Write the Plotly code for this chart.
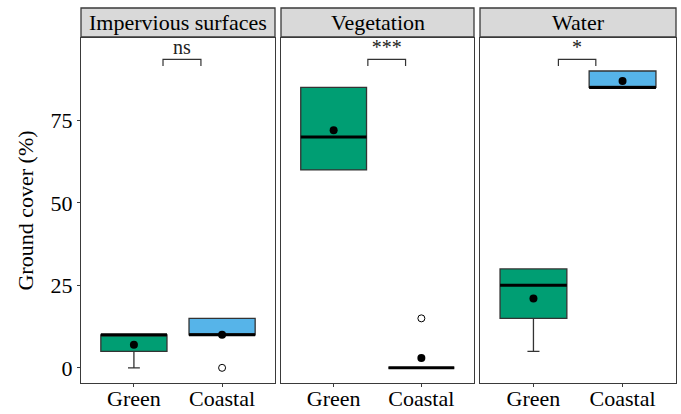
import plotly.graph_objects as go

panels = ["Impervious surfaces", "Vegetation", "Water"]
groups = ["Green", "Coastal"]
colors = {"Green": "#009E73", "Coastal": "#56B4E9"}

# box statistics per panel: [Green, Coastal]
q1 = [[5, 10], [60, 0], [15, 85]]
median = [[10, 10], [70, 0], [25, 85]]
q3 = [[10, 15], [85, 0], [30, 90]]
lowerfence = [[0, 10], [60, 0], [5, 85]]
upperfence = [[10, 15], [85, 0], [30, 90]]
means = [[7, 10], [72, 3], [21, 87]]
outliers = [[[], [0]], [[], [15]], [[], []]]

sig_labels = ["ns", "***", "*"]
sig_x = [[1.33, 1.76], [1.39, 1.82], [1.28, 1.70]]
sig_y = 93.5
sig_tip = 91.5

y_ticks = [0, 25, 50, 75]
y_range = [-4.6, 100]

W, H = 681, 414
x_domains = [[81 / W, 275 / W], [281 / W, 474 / W], [480 / W, 676 / W]]
y_domain = [1 - 383 / H, 1 - 38 / H]
strip = [1 - 37 / H, 1 - 8 / H]

font_family = "Liberation Serif, Times New Roman, serif"
edge = "#3a3a3a"
box_w = 0.75
fs = 22

fig = go.Figure()
for p in range(3):
    xa = "x" if p == 0 else f"x{p+1}"
    ya = "y" if p == 0 else f"y{p+1}"
    for g, grp in enumerate(groups):
        xpos = g + 1
        fig.add_trace(go.Box(
            x=[xpos], q1=[q1[p][g]], median=[median[p][g]], q3=[q3[p][g]],
            lowerfence=[lowerfence[p][g]], upperfence=[upperfence[p][g]],
            width=box_w, whiskerwidth=0.18, fillcolor=colors[grp],
            line=dict(color="#333333", width=1.3), boxpoints=False,
            xaxis=xa, yaxis=ya, showlegend=False, hoverinfo="skip"))
        # thick median line
        fig.add_trace(go.Scatter(
            x=[xpos - box_w / 2, xpos + box_w / 2], y=[median[p][g]] * 2,
            mode="lines", line=dict(color="black", width=3),
            xaxis=xa, yaxis=ya, showlegend=False, hoverinfo="skip"))
        if outliers[p][g]:
            fig.add_trace(go.Scatter(
                x=[xpos] * len(outliers[p][g]), y=outliers[p][g], mode="markers",
                marker=dict(symbol="circle-open", size=7, color="black", line=dict(width=1)),
                xaxis=xa, yaxis=ya, showlegend=False, hoverinfo="skip"))
        fig.add_trace(go.Scatter(
            x=[xpos], y=[means[p][g]], mode="markers",
            marker=dict(symbol="circle", size=8, color="black"),
            xaxis=xa, yaxis=ya, showlegend=False, hoverinfo="skip"))
    # significance bracket
    x0, x1 = sig_x[p]
    fig.add_trace(go.Scatter(
        x=[x0, x0, x1, x1], y=[sig_tip, sig_y, sig_y, sig_tip], mode="lines",
        line=dict(color="#333333", width=1.2),
        xaxis=xa, yaxis=ya, showlegend=False, hoverinfo="skip"))
    fig.add_trace(go.Scatter(
        x=[(x0 + x1) / 2], y=[sig_y], mode="text", text=[sig_labels[p]],
        textposition="top center", textfont=dict(family=font_family, size=20, color="#222"),
        xaxis=xa, yaxis=ya, showlegend=False, hoverinfo="skip"))

    axx = dict(domain=x_domains[p], range=[0.4, 2.6], tickvals=[1, 2], ticktext=groups,
               showgrid=False, zeroline=False, showline=True, mirror=True,
               linecolor=edge, linewidth=1.3, ticks="outside", ticklen=3, tickcolor=edge,
               ticklabelstandoff=-8,
               tickfont=dict(family=font_family, size=fs, color="black"), anchor=ya,
               fixedrange=True, automargin=False)
    axy = dict(domain=y_domain, range=y_range, tickvals=y_ticks,
               showgrid=False, zeroline=False, showline=True, mirror=True,
               linecolor=edge, linewidth=1.3, anchor=xa, fixedrange=True,
               showticklabels=(p == 0), ticks="outside" if p == 0 else "",
               ticklen=3, tickcolor=edge, automargin=False,
               tickfont=dict(family=font_family, size=fs, color="black"))
    if p == 0:
        axy["title"] = dict(text="Ground cover (%)", font=dict(family=font_family, size=fs, color="black"),
                            standoff=10)
    fig.update_layout({("xaxis" if p == 0 else f"xaxis{p+1}"): axx,
                       ("yaxis" if p == 0 else f"yaxis{p+1}"): axy})
    # strip header
    fig.add_shape(type="rect", xref="paper", yref="paper",
                  x0=x_domains[p][0], x1=x_domains[p][1], y0=strip[0], y1=strip[1],
                  fillcolor="#D9D9D9", line=dict(color=edge, width=1.3))
    fig.add_annotation(xref="paper", yref="paper", x=sum(x_domains[p]) / 2,
                       y=sum(strip) / 2, xanchor="center", yanchor="middle",
                       text=panels[p], showarrow=False,
                       font=dict(family=font_family, size=fs, color="black"))

fig.update_layout(width=W, height=H, margin=dict(l=0, r=0, t=0, b=0),
                  paper_bgcolor="white", plot_bgcolor="white")
fig.write_html("out.html")
